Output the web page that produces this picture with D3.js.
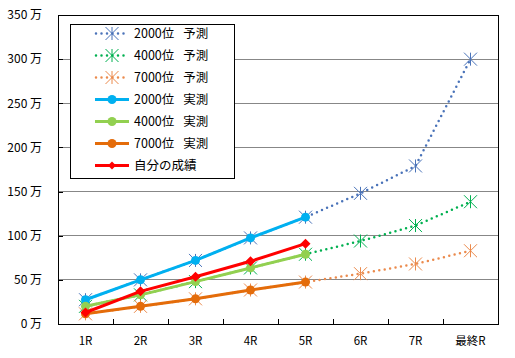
<!DOCTYPE html>
<html><head><meta charset="utf-8">
<script src="https://cdn.jsdelivr.net/npm/d3@7"></script>
<style>
html,body{margin:0;padding:0;background:#fff;}
svg{display:block;font-family:"Noto Sans CJK JP","Noto Sans",sans-serif;}
</style></head>
<body>
<svg id="c" width="515" height="358"></svg>
<script>
const categories = ["1R","2R","3R","4R","5R","6R","7R","最終R"];
const yTicks = [0,50,100,150,200,250,300,350];
const pred2000 = [27.5,50,72,97.5,121,148,179,300];
const pred4000 = [20,33,48,63.5,79,94,111.5,138.5];
const pred7000 = [11.5,20,28.5,38.5,47.5,57,68,83];
const act2000 = [27.5,50,72,97.5,121];
const act4000 = [20,33,48,63.5,79];
const act7000 = [11.5,20,28.5,38.5,47.5];
const mine = [13,37,53.5,71,91];
const legendLabels = ["2000位 \u2002予測","4000位 \u2002予測","7000位 \u2002予測","2000位 \u2002実測","4000位 \u2002実測","7000位 \u2002実測","自分の成績"];

const svg = d3.select("#c");
const L=58,R=498,T=15,B=324;
const x = d3.scaleBand().domain(categories).range([L,R]).padding(0);
const y = d3.scaleLinear().domain([0,350]).range([B,T]);
const cx = c => x(c)+x.bandwidth()/2;

// gridlines
svg.append("g").selectAll("line").data(yTicks.filter(v=>v>0&&v<350)).join("line")
  .attr("x1",L).attr("x2",R).attr("y1",d=>y(d)).attr("y2",d=>y(d))
  .attr("stroke","#878787").attr("stroke-width",1).attr("shape-rendering","crispEdges");

// y axis labels
const ya = svg.append("g").attr("transform",`translate(${L},0)`)
  .call(d3.axisLeft(y).tickValues(yTicks).tickFormat(d=>d+" 万").tickSizeOuter(0).tickSizeInner(-5).tickPadding(16));
ya.select(".domain").remove();
ya.selectAll("line").attr("stroke","#000").attr("shape-rendering","crispEdges");
ya.selectAll("text").attr("font-size",12).attr("fill","#000").attr("font-family",'"Noto Sans CJK JP",sans-serif');

// x axis
const xa = svg.append("g").attr("transform",`translate(0,${B})`)
  .call(d3.axisBottom(x).tickSize(0).tickPadding(13));
xa.select(".domain").remove();
xa.selectAll("text").attr("font-size",11.5).attr("fill","#000").attr("font-family",'"Noto Sans CJK JP",sans-serif');
svg.append("g").selectAll("line").data(categories.slice(1)).join("line")
  .attr("x1",d=>x(d)).attr("x2",d=>x(d)).attr("y1",B).attr("y2",B-5)
  .attr("stroke","#000").attr("shape-rendering","crispEdges");

// plot border
svg.append("rect").attr("x",L).attr("y",T).attr("width",R-L).attr("height",B-T)
  .attr("fill","none").attr("stroke","#000").attr("stroke-width",1).attr("shape-rendering","crispEdges");

const line = d3.line().x((d,i)=>cx(categories[i])).y(d=>y(d));

function asterisk(g, px, py, color){
  const s=6.5;
  const a=g.append("g").attr("stroke",color).attr("stroke-width",1).attr("fill","none");
  a.append("line").attr("x1",px).attr("x2",px).attr("y1",py-s).attr("y2",py+s);
  a.append("line").attr("x1",px-s).attr("x2",px+s).attr("y1",py-s).attr("y2",py+s);
  a.append("line").attr("x1",px-s).attr("x2",px+s).attr("y1",py+s).attr("y2",py-s);
}
function diamond(g, px, py, color, s){
  g.append("path").attr("d",`M${px},${py-s}L${px+s},${py}L${px},${py+s}L${px-s},${py}Z`).attr("fill",color);
}

const preds = [
  {data:pred2000,color:"#4A73B9"},
  {data:pred4000,color:"#00B050"},
  {data:pred7000,color:"#EB8A4C"}
];
const acts = [
  {data:act2000,color:"#00B0F0",marker:"circle"},
  {data:act4000,color:"#92D050",marker:"circle"},
  {data:act7000,color:"#E46C0A",marker:"circle"},
  {data:mine,color:"#FF0000",marker:"diamond"}
];

preds.forEach(p=>{
  const g=svg.append("g");
  g.append("path").attr("d",line(p.data)).attr("fill","none").attr("stroke",p.color)
    .attr("stroke-width",2.5).attr("stroke-linecap","round").attr("stroke-dasharray","0 5.5");
  p.data.forEach((v,i)=>asterisk(g,cx(categories[i]),y(v),p.color));
});
acts.forEach(a=>{
  const g=svg.append("g");
  g.append("path").attr("d",line(a.data)).attr("fill","none").attr("stroke",a.color)
    .attr("stroke-width",3).attr("stroke-linejoin","round");
  a.data.forEach((v,i)=>{
    if(a.marker==="circle") g.append("circle").attr("cx",cx(categories[i])).attr("cy",y(v)).attr("r",4.5).attr("fill",a.color);
    else diamond(g,cx(categories[i]),y(v),a.color,5);
  });
});

// legend
const lg = svg.append("g");
lg.append("rect").attr("x",70.5).attr("y",24.5).attr("width",164).attr("height",154)
  .attr("fill","#fff").attr("stroke","#000").attr("stroke-width",1);
const items = [
  ...preds.map(p=>({type:"pred",color:p.color})),
  ...acts.map(a=>({type:a.marker,color:a.color}))
];
items.forEach((it,i)=>{
  const yy = 33.5 + i*22;
  const g = lg.append("g");
  if(it.type==="pred"){
    g.append("line").attr("x1",96).attr("x2",128).attr("y1",yy).attr("y2",yy).attr("stroke",it.color)
      .attr("stroke-width",2.5).attr("stroke-linecap","round").attr("stroke-dasharray","0 5.5");
    asterisk(g,112,yy,it.color);
  } else {
    g.append("line").attr("x1",95).attr("x2",129).attr("y1",yy).attr("y2",yy).attr("stroke",it.color).attr("stroke-width",3);
    if(it.type==="circle") g.append("circle").attr("cx",112).attr("cy",yy).attr("r",4.5).attr("fill",it.color);
    else diamond(g,112,yy,it.color,4);
  }
  g.append("text").attr("x",134).attr("y",yy).attr("dy","0.36em").attr("font-size",12.5)
    .attr("fill","#000").style("white-space","pre").text(legendLabels[i]);
});
</script>
</body></html>
